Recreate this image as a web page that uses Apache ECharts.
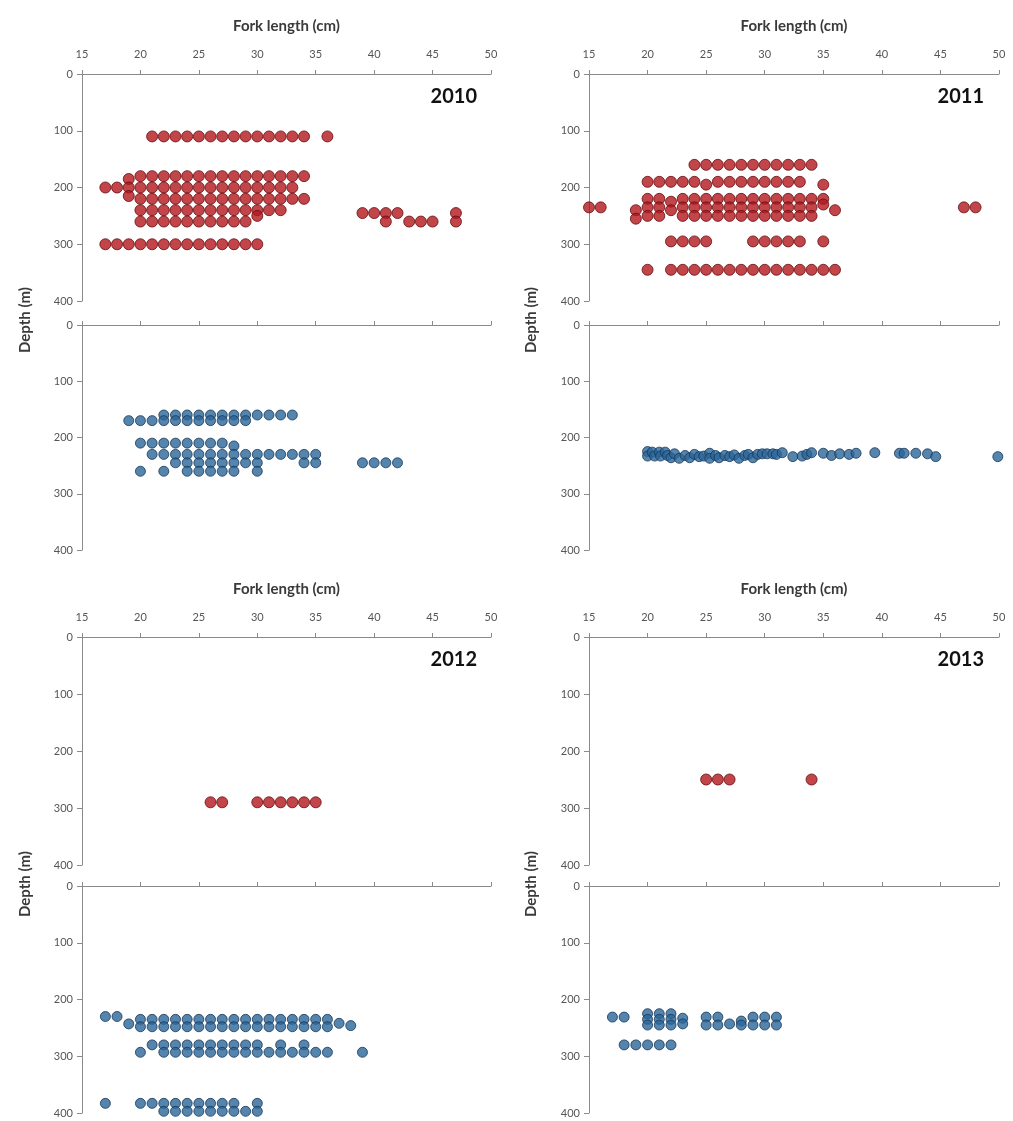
<!DOCTYPE html>
<html>
<head>
<meta charset="utf-8">
<script src="https://cdn.jsdelivr.net/npm/echarts@6/dist/echarts.min.js"></script>
<style>
  html, body { margin: 0; padding: 0; background: #ffffff; }
  #chart { width: 1013px; height: 1121px; }
</style>
</head>
<body>
<div id="chart"></div>
<script>
// Catch records: each row is [depth (m), [fork lengths (cm) caught at that depth]]
const years = ['2010', '2011', '2012', '2013'];
const xTickStep = 5;
const lengthRange = [15, 50];
const depthRange = [0, 400];
const depthStep = 100;

const red2010 = [
  [110, [21, 22, 23, 24, 25, 26, 27, 28, 29, 30, 31, 32, 33, 34, 36]],
  [180, [20, 21, 22, 23, 24, 25, 26, 27, 28, 29, 30, 31, 32, 33, 34]],
  [185, [19]],
  [200, [17, 18, 19, 20, 21, 22, 23, 24, 25, 26, 27, 28, 29, 30, 31, 32, 33]],
  [215, [19]],
  [220, [20, 21, 22, 23, 24, 25, 26, 27, 28, 29, 30, 31, 32, 33, 34]],
  [240, [20, 21, 22, 23, 24, 25, 26, 27, 28, 29, 30, 31, 32]],
  [245, [39, 40, 41, 42, 47]],
  [250, [30]],
  [260, [20, 21, 22, 23, 24, 25, 26, 27, 28, 29, 41, 43, 44, 45, 47]],
  [300, [17, 18, 19, 20, 21, 22, 23, 24, 25, 26, 27, 28, 29, 30]]
];
const blue2010 = [
  [160, [22, 23, 24, 25, 26, 27, 28, 29, 30, 31, 32, 33]],
  [170, [19, 20, 21, 22, 23, 24, 25, 26, 27, 28, 29]],
  [210, [20, 21, 22, 23, 24, 25, 26, 27]],
  [215, [28]],
  [230, [21, 22, 23, 24, 25, 26, 27, 28, 29, 30, 31, 32, 33, 34, 35]],
  [245, [23, 24, 25, 26, 27, 28, 29, 30, 34, 35, 39, 40, 41, 42]],
  [260, [20, 22, 24, 25, 26, 27, 28, 30]]
];
const red2011 = [
  [160, [24, 25, 26, 27, 28, 29, 30, 31, 32, 33, 34]],
  [190, [20, 21, 22, 23, 24, 26, 27, 28, 29, 30, 31, 32, 33]],
  [195, [25, 35]],
  [220, [20, 21, 23, 24, 25, 26, 27, 28, 29, 30, 31, 32, 33, 34, 35]],
  [225, [22]],
  [230, [35]],
  [235, [15, 16, 20, 21, 23, 24, 25, 26, 27, 28, 29, 30, 31, 32, 33, 34, 47, 48]],
  [240, [19, 22, 36]],
  [250, [20, 21, 23, 24, 25, 26, 27, 28, 29, 30, 31, 32, 33, 34]],
  [255, [19]],
  [295, [22, 23, 24, 25, 29, 30, 31, 32, 33, 35]],
  [345, [20, 22, 23, 24, 25, 26, 27, 28, 29, 30, 31, 32, 33, 34, 35, 36]]
];
// 2011 blue catches were logged with decimal lengths: [fork length, depth]
const blue2011Points = [
  [20.0, 225], [20.0, 233], [20.4, 226], [20.6, 233], [21.0, 226], [21.1, 233],
  [21.5, 226], [21.7, 232], [22.0, 236], [22.3, 229], [22.7, 237], [23.2, 232],
  [23.6, 236], [24.0, 230], [24.4, 234], [24.8, 233], [25.3, 228], [25.3, 237],
  [25.8, 232], [26.1, 236], [26.6, 232], [27.0, 234], [27.4, 231], [27.8, 237],
  [28.3, 232], [28.6, 230], [29.0, 236], [29.4, 230], [29.8, 229], [30.2, 229],
  [30.7, 229], [31.0, 230], [31.5, 227], [32.4, 234], [33.2, 233], [33.6, 230],
  [34.0, 227], [35.0, 228], [35.7, 232], [36.4, 229], [37.2, 230], [37.8, 228],
  [39.4, 227], [41.5, 228], [41.9, 228], [42.9, 228], [43.9, 229], [44.6, 234],
  [49.9, 234]
];
const red2012 = [
  [290, [26, 27, 30, 31, 32, 33, 34, 35]]
];
const blue2012 = [
  [230, [17, 18]],
  [243, [19]],
  [235, [20, 21, 22, 23, 24, 25, 26, 27, 28, 29, 30, 31, 32, 33, 34, 35, 36]],
  [248, [20, 21, 22, 23, 24, 25, 26, 27, 28, 29, 30, 31, 32, 33, 34, 35, 36]],
  [242, [37]],
  [246, [38]],
  [280, [21, 22, 23, 24, 25, 26, 27, 28, 29, 30, 32, 34]],
  [293, [20, 22, 23, 24, 25, 26, 27, 28, 29, 30, 31, 32, 33, 34, 35, 36, 39]],
  [383, [17, 20, 21, 22, 23, 24, 25, 26, 27, 28, 30]],
  [397, [22, 23, 24, 25, 26, 27, 28, 29, 30]]
];
const red2013 = [
  [250, [25, 26, 27, 34]]
];
const blue2013 = [
  [225, [20, 21, 22]],
  [231, [17, 18, 25, 26, 29, 30, 31]],
  [233, [23]],
  [235, [20, 21, 22]],
  [238, [28]],
  [243, [23, 27]],
  [245, [20, 21, 22, 25, 26, 28, 29, 30, 31]],
  [280, [18, 19, 20, 21, 22]]
];

// turn depth rows into [length, depth] pairs
function fromRows(rows) {
  const out = [];
  rows.forEach(function (r) { r[1].forEach(function (len) { out.push([len, r[0]]); }); });
  return out;
}

const panels = [
  { year: years[0], red: fromRows(red2010), blue: fromRows(blue2010) },
  { year: years[1], red: fromRows(red2011), blue: blue2011Points },
  { year: years[2], red: fromRows(red2012), blue: fromRows(blue2012) },
  { year: years[3], red: fromRows(red2013), blue: fromRows(blue2013) }
];

const FONT = 'Lato, "Liberation Sans", sans-serif';
const axisGrey = '#8a8a8a';
const labelGrey = '#555555';
const titleGrey = '#3a3a3a';

const colLeft = [82, 589];
const colWidth = [409, 410];
const rowBoxes = [
  { top: [74, 325], height: [227, 225] },
  { top: [637, 886], height: [228, 227] }
];

const grids = [], xAxes = [], yAxes = [], series = [], graphics = [];

panels.forEach(function (p, i) {
  const col = i % 2, row = Math.floor(i / 2);
  [0, 1].forEach(function (k) {
    const gi = grids.length;
    grids.push({
      left: colLeft[col], width: colWidth[col],
      top: rowBoxes[row].top[k], height: rowBoxes[row].height[k]
    });
    xAxes.push({
      gridIndex: gi, type: 'value', position: 'top',
      min: lengthRange[0], max: lengthRange[1], interval: xTickStep,
      name: k === 0 ? 'Fork length (cm)' : '',
      nameLocation: 'middle', nameGap: 40,
      nameTextStyle: { fontFamily: FONT, fontSize: 15, fontWeight: 'bold', color: titleGrey },
      axisLine: { show: true, onZero: false, lineStyle: { color: axisGrey, width: 1 } },
      axisTick: { show: true, inside: false, length: 4, lineStyle: { color: axisGrey } },
      axisLabel: { show: k === 0, fontFamily: FONT, fontSize: 11, color: labelGrey, margin: 14 },
      splitLine: { show: false }
    });
    yAxes.push({
      gridIndex: gi, type: 'value', inverse: true, position: 'left',
      min: depthRange[0], max: depthRange[1], interval: depthStep,
      axisLine: { show: true, onZero: false, lineStyle: { color: axisGrey, width: 1 } },
      axisTick: { show: true, inside: false, length: 5, lineStyle: { color: axisGrey } },
      axisLabel: { fontFamily: FONT, fontSize: 11, color: labelGrey, margin: 9 },
      splitLine: { show: false }
    });
    series.push({
      type: 'scatter', xAxisIndex: gi, yAxisIndex: gi,
      data: k === 0 ? p.red : p.blue,
      symbol: 'circle',
      symbolSize: k === 0 ? 11 : 10,
      itemStyle: k === 0
        ? { color: '#b3161d', borderColor: '#670b0e', borderWidth: 1 }
        : { color: '#2a6599', borderColor: '#17385a', borderWidth: 1 },
      emphasis: { disabled: true },
      silent: true
    });
  });

  const yearRight = col === 0 ? 477 : 984;
  const yearMid = row === 0 ? 98 : 661;
  graphics.push({
    type: 'text', right: 1013 - yearRight, top: yearMid - 11,
    style: { text: p.year, fontFamily: FONT, fontSize: 20, fontWeight: 'bold', fill: '#111111' }
  });
  graphics.push({
    type: 'text',
    x: col === 0 ? 25 : 531, y: row === 0 ? 320 : 884,
    rotation: Math.PI / 2,
    style: {
      text: 'Depth (m)', fontFamily: FONT, fontSize: 15, fontWeight: 'bold', fill: titleGrey,
      textAlign: 'center', textVerticalAlign: 'middle'
    }
  });
});

const chart = echarts.init(document.getElementById('chart'), null, { renderer: 'canvas' });
chart.setOption({
  backgroundColor: '#ffffff',
  animation: false,
  grid: grids,
  xAxis: xAxes,
  yAxis: yAxes,
  series: series,
  graphic: graphics
});
</script>
</body>
</html>
